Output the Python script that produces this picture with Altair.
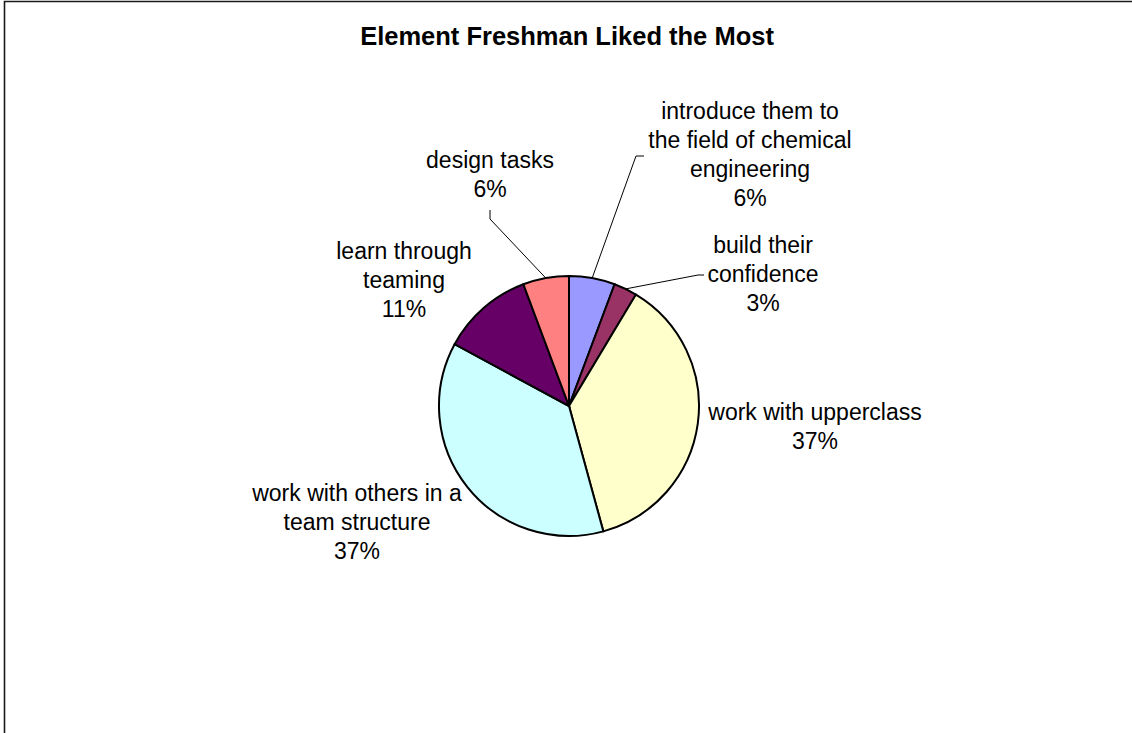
import math
import altair as alt
import pandas as pd

# ---- data ----
title_text = "Element Freshman Liked the Most"
categories = [
    "introduce them to the field of chemical engineering",
    "build their confidence",
    "work with upperclass",
    "work with others in a team structure",
    "learn through teaming",
    "design tasks",
]
label_lines = [
    ["introduce them to", "the field of chemical", "engineering"],
    ["build their", "confidence"],
    ["work with upperclass"],
    ["work with others in a", "team structure"],
    ["learn through", "teaming"],
    ["design tasks"],
]
shares = [5.7, 2.9, 37.1, 37.1, 11.4, 5.7]
colors = ["#9999FF", "#993366", "#FFFFCC", "#CCFFFF", "#660066", "#FF8080"]

# ---- layout (pixels) ----
W, H = 1132, 733
CX, CY, R = 569, 406, 130
label_x = [750, 763, 815, 357, 404, 490]
label_y = [112, 246, 413, 494, 252, 161]   # centre of first line
leader_bends = {0: [(636, 156), (644, 156)], 1: [(698, 275), (704, 275)], 5: [(490, 219), (490, 210)]}
FONT = "Liberation Sans"

total = sum(shares)
pie_df = pd.DataFrame({"idx": list(range(len(categories))), "category": categories, "share": shares})

lab_rows = []
for i, (lines, s) in enumerate(zip(label_lines, shares)):
    txt = "\n".join(lines + [f"{round(s / total * 100)}%"])
    lab_rows.append({"label": txt, "lx": label_x[i], "ly": label_y[i]})
lab_df = pd.DataFrame(lab_rows)

# leader lines: start at the slice's outer edge (mid angle from the data)
cum = 0.0
mids = []
for s in shares:
    mids.append((cum + s / 2) / total * 2 * math.pi)
    cum += s
lead_rows = []
for i, pts in leader_bends.items():
    a = mids[i]
    sx, sy = CX + R * math.sin(a), CY - R * math.cos(a)
    lead_rows.append({"leader": i, "pt": 0, "px": sx, "py": sy})
    for k, (px, py) in enumerate(pts):
        lead_rows.append({"leader": i, "pt": k + 1, "px": px, "py": py})
lead_df = pd.DataFrame(lead_rows)

border = alt.Chart(alt.Data(values=[{"b": 1}])).mark_rect(
    filled=False, stroke="#1a1a1a", strokeWidth=1.6
).encode(x=alt.value(4.5), x2=alt.value(1145), y=alt.value(1.5), y2=alt.value(745))

pie = alt.Chart(pie_df).mark_arc(outerRadius=R, stroke="black", strokeWidth=2).encode(
    theta=alt.Theta("share:Q", stack=True),
    color=alt.Color("category:N", scale=alt.Scale(domain=categories, range=colors), legend=None),
    order=alt.Order("idx:Q"),
    x=alt.value(CX),
    y=alt.value(CY),
)

leaders = alt.Chart(lead_df).mark_line(color="black", strokeWidth=1).encode(
    x=alt.X("px:Q", scale=None, axis=None),
    y=alt.Y("py:Q", scale=None, axis=None),
    detail="leader:N",
    order="pt:Q",
)

labels = alt.Chart(lab_df).mark_text(
    font=FONT, fontSize=23, lineHeight=29, lineBreak="\n", align="center", baseline="middle", color="black"
).encode(
    x=alt.X("lx:Q", scale=None, axis=None),
    y=alt.Y("ly:Q", scale=None, axis=None),
    text="label:N",
)

title = alt.Chart(alt.Data(values=[{"t": title_text}])).mark_text(
    font=FONT, fontSize=25.5, fontWeight="bold", align="center", baseline="middle", color="black"
).encode(x=alt.value(567), y=alt.value(37), text="t:N")

chart = alt.layer(border, pie, leaders, labels, title).properties(
    width=W, height=H, autosize=alt.AutoSizeParams(type="none"), padding=0, background="white"
).configure_view(stroke=None)

chart.save("out.html", embed_options={"renderer": "svg", "actions": False})
